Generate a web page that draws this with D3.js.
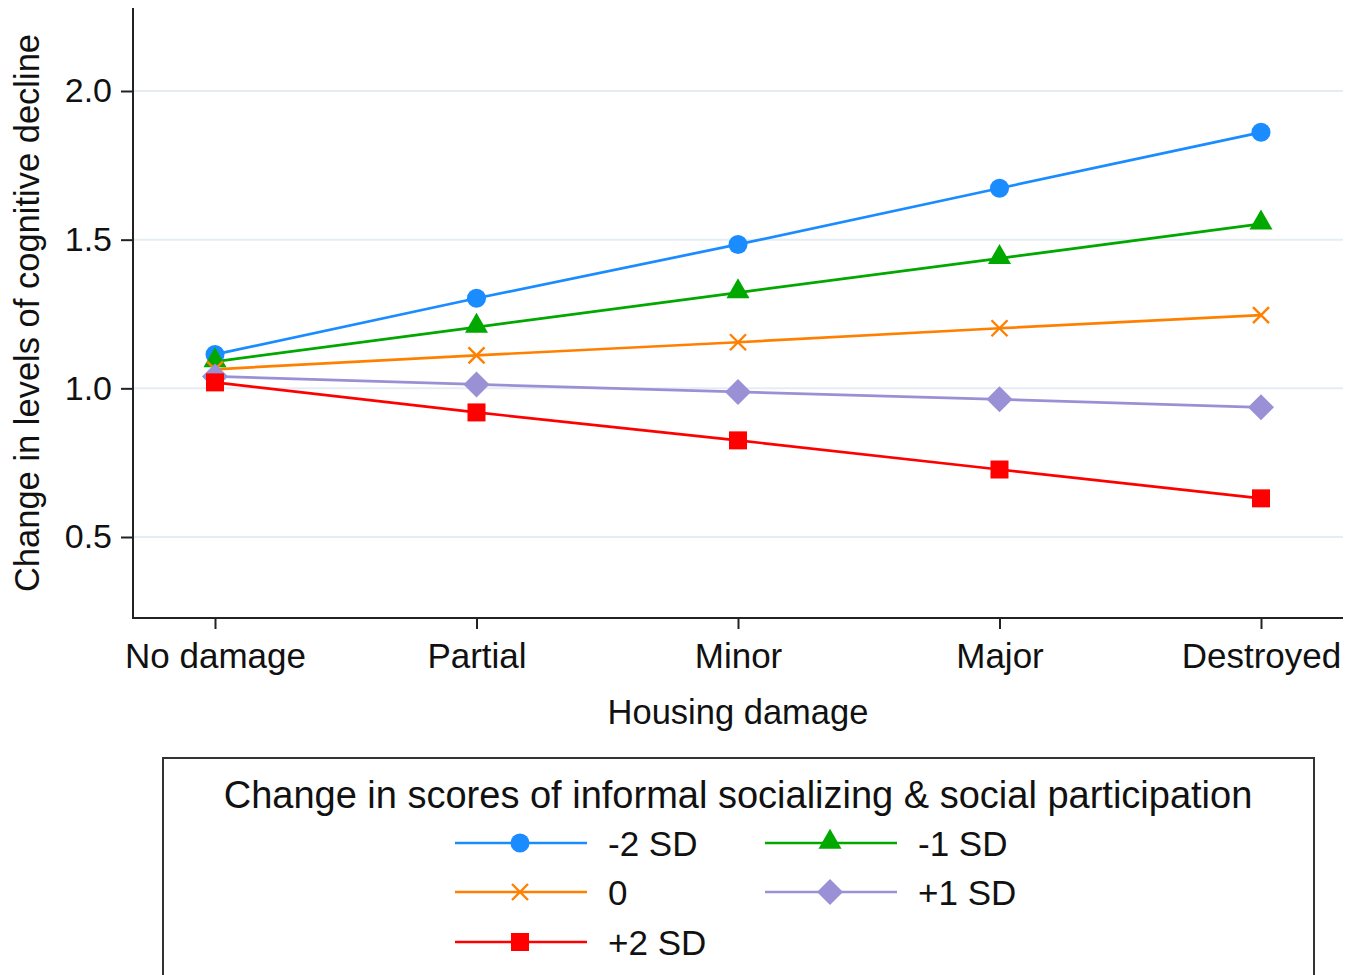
<!DOCTYPE html>
<html>
<head>
<meta charset="utf-8">
<script src="https://cdn.jsdelivr.net/npm/d3@7"></script>
<style>
  body { margin: 0; background: #fff; }
  svg { display: block; font-family: "Liberation Sans", Arial, sans-serif; }
</style>
</head>
<body>
<svg id="chart" width="1360" height="975"></svg>
<script>
// categories and series
var categories = ["No damage", "Partial", "Minor", "Major", "Destroyed"];
var seriesNames = ["-2 SD", "-1 SD", "0", "+1 SD", "+2 SD"];
var minus2 = [1.114, 1.303, 1.484, 1.673, 1.861];
var minus1 = [1.090, 1.206, 1.322, 1.437, 1.553];
var zero = [1.064, 1.111, 1.155, 1.202, 1.246];
var plus1 = [1.040, 1.013, 0.988, 0.963, 0.936];
var plus2 = [1.020, 0.919, 0.825, 0.727, 0.630];
var yTicks = [0.5, 1.0, 1.5, 2.0];

var colors = ["#1a8cff", "#00a800", "#ff8000", "#9a90d6", "#ff0000"];
var shapes = ["circle", "triangle", "x", "diamond", "square"];
var seriesValues = [minus2, minus1, zero, plus1, plus2];

var svg = d3.select("#chart");

//scales
var x = d3.scalePoint().domain(categories).range([215, 1261]);
var y = d3.scaleLinear().domain([0.2276, 2.2724]).range([618, 10]);

//gridlines
svg.append("g")
  .selectAll("line")
  .data(yTicks)
  .join("line")
  .attr("x1", 133).attr("x2", 1343)
  .attr("y1", d => y(d)).attr("y2", d => y(d))
  .attr("stroke", "#e4edf3").attr("stroke-width", 2);

//axes
var yAxis = svg.append("g")
  .attr("transform", "translate(133,0)")
  .call(d3.axisLeft(y).tickValues(yTicks).tickFormat(d3.format(".1f")).tickSize(12).tickPadding(9));
var xAxis = svg.append("g")
  .attr("transform", "translate(0,618)")
  .call(d3.axisBottom(x).tickSize(11).tickPadding(7));

[yAxis, xAxis].forEach(function(a) {
  a.select(".domain").remove();
  a.selectAll(".tick line").attr("stroke", "#222").attr("stroke-width", 2);
  a.selectAll("text").attr("fill", "#111").style("font-size", "34px");
});
xAxis.selectAll("text").attr("dy", "0.9em").style("font-size", "35px");

svg.append("line").attr("x1", 133).attr("x2", 133).attr("y1", 8).attr("y2", 619)
  .attr("stroke", "#222").attr("stroke-width", 2);
svg.append("line").attr("x1", 132).attr("x2", 1343).attr("y1", 618).attr("y2", 618)
  .attr("stroke", "#222").attr("stroke-width", 2);

//axis titles
svg.append("text")
  .attr("transform", "translate(39,313) rotate(-90)")
  .attr("text-anchor", "middle")
  .style("font-size", "34.5px").attr("fill", "#111")
  .text("Change in levels of cognitive decline");
svg.append("text")
  .attr("x", 738).attr("y", 724)
  .attr("text-anchor", "middle")
  .style("font-size", "34.5px").attr("fill", "#111")
  .text("Housing damage");

//marker drawing
function drawMarker(g, shape, color, cx, cy) {
  if (shape == "circle") {
    g.append("circle").attr("cx", cx).attr("cy", cy).attr("r", 9.5).attr("fill", color);
  } else if (shape == "triangle") {
    g.append("path").attr("d", d3.symbol().type(d3.symbolTriangle).size(230)())
      .attr("transform", "translate(" + cx + "," + (cy - 1) + ")").attr("fill", color);
  } else if (shape == "square") {
    g.append("rect").attr("x", cx - 9).attr("y", cy - 9).attr("width", 18).attr("height", 18).attr("fill", color);
  } else if (shape == "diamond") {
    g.append("path").attr("d", "M0,-13L13,0L0,13L-13,0Z")
      .attr("transform", "translate(" + cx + "," + cy + ")").attr("fill", color);
  } else if (shape == "x") {
    g.append("path").attr("d", "M-8,-8L8,8M-8,8L8,-8")
      .attr("transform", "translate(" + cx + "," + cy + ")")
      .attr("stroke", color).attr("stroke-width", 2.4).attr("fill", "none");
  }
}

//lines and markers
var line = d3.line().x((d, i) => x(categories[i])).y(d => y(d));
var plot = svg.append("g");
seriesValues.forEach(function(vals, s) {
  plot.append("path").datum(vals).attr("d", line)
    .attr("fill", "none").attr("stroke", colors[s]).attr("stroke-width", 2.7);
});
seriesValues.forEach(function(vals, s) {
  vals.forEach(function(v, i) {
    drawMarker(plot, shapes[s], colors[s], x(categories[i]), y(v));
  });
});

//legend
var legend = svg.append("g");
legend.append("rect").attr("x", 163).attr("y", 758).attr("width", 1151).attr("height", 230)
  .attr("fill", "#fff").attr("stroke", "#333").attr("stroke-width", 2);
legend.append("text")
  .attr("x", 738).attr("y", 808).attr("text-anchor", "middle")
  .style("font-size", "38px").attr("fill", "#111")
  .text("Change in scores of informal socializing & social participation");

var legendPos = [[455, 843], [765, 843], [455, 892], [765, 892], [455, 942]];
seriesNames.forEach(function(name, s) {
  var lx = legendPos[s][0], ly = legendPos[s][1];
  legend.append("line").attr("x1", lx).attr("x2", lx + 132).attr("y1", ly).attr("y2", ly)
    .attr("stroke", colors[s]).attr("stroke-width", 2.7);
  drawMarker(legend, shapes[s], colors[s], lx + 65, ly);
  legend.append("text").attr("x", lx + 153).attr("y", ly + 13)
    .style("font-size", "35px").attr("fill", "#111").text(name);
});
</script>
</body>
</html>
